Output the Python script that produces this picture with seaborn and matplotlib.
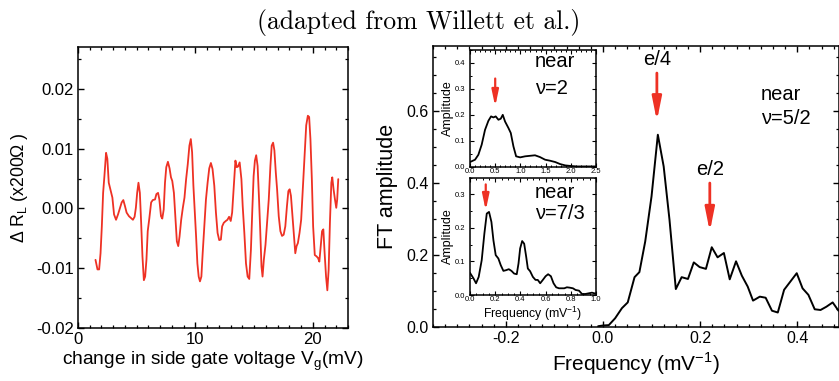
import numpy as np
import pandas as pd
import matplotlib
matplotlib.use("Agg")
import matplotlib.pyplot as plt
from matplotlib.ticker import MultipleLocator
import seaborn as sns

# ---------------- data ----------------
vg = [1.49, 1.66, 1.80, 1.92, 2.03, 2.14, 2.25, 2.39, 2.50, 2.62, 2.76, 2.93, 3.07, 3.24, 3.41,
      3.58, 3.72, 3.86, 4.00, 4.14, 4.34, 4.51, 4.68, 4.82, 4.93, 5.04, 5.15, 5.27, 5.38, 5.49,
      5.61, 5.72, 5.83, 5.94, 6.08, 6.23, 6.37, 6.56, 6.68, 6.82, 6.93, 7.07, 7.18, 7.30, 7.41,
      7.52, 7.66, 7.80, 7.92, 8.03, 8.17, 8.31, 8.42, 8.54, 8.65, 8.79, 8.93, 9.07, 9.21, 9.35,
      9.49, 9.61, 9.72, 9.83, 9.94, 10.06, 10.17, 10.28, 10.39, 10.51, 10.62, 10.76, 10.90, 11.04,
      11.18, 11.32, 11.46, 11.61, 11.75, 11.89, 12.03, 12.17, 12.28, 12.42, 12.59, 12.73, 12.87,
      13.01, 13.13, 13.27, 13.41, 13.52, 13.63, 13.77, 13.92, 14.03, 14.17, 14.31, 14.45, 14.59,
      14.73, 14.85, 14.96, 15.07, 15.18, 15.30, 15.41, 15.52, 15.63, 15.72, 15.83, 15.97, 16.11,
      16.25, 16.39, 16.50, 16.62, 16.73, 16.85, 16.96, 17.10, 17.24, 17.38, 17.52, 17.66, 17.80,
      17.92, 18.03, 18.14, 18.25, 18.37, 18.51, 18.62, 18.73, 18.87, 19.01, 19.15, 19.30, 19.44,
      19.58, 19.69, 19.80, 19.92, 20.03, 20.17, 20.31, 20.45, 20.56, 20.68, 20.79, 20.90, 21.01,
      21.13, 21.24, 21.35, 21.46, 21.58, 21.66, 21.77, 21.89, 22.00, 22.08, 22.17]
delta_rl = [-0.0086, -0.0102, -0.0102, -0.0075, -0.0030, 0.0026, 0.0054, 0.0093, 0.0083, 0.0043,
            0.0032, 0.0018, -0.0010, -0.0019, -0.0010, 0.0001, 0.0010, 0.0014, 0.0004, -0.0007,
            -0.0013, -0.0016, -0.0019, -0.0014, 0.0001, 0.0026, 0.0043, 0.0026, -0.0024, -0.0080,
            -0.0120, -0.0114, -0.0086, -0.0038, -0.0016, 0.0010, 0.0014, 0.0015, 0.0024, 0.0026,
            0.0015, -0.0013, -0.0017, -0.0002, 0.0043, 0.0069, 0.0078, 0.0067, 0.0052, 0.0046,
            0.0026, -0.0019, -0.0055, -0.0063, -0.0047, -0.0019, 0.0001, 0.0018, 0.0049, 0.0074,
            0.0105, 0.0116, 0.0094, 0.0038, -0.0002, -0.0047, -0.0092, -0.0114, -0.0122, -0.0114,
            -0.0075, -0.0030, 0.0015, 0.0043, 0.0067, 0.0076, 0.0066, 0.0038, -0.0007, -0.0041,
            -0.0053, -0.0052, -0.0030, -0.0024, -0.0021, -0.0019, -0.0014, -0.0021, -0.0007, 0.0038,
            0.0080, 0.0069, 0.0070, 0.0077, 0.0049, 0.0004, -0.0041, -0.0092, -0.0114, -0.0118,
            -0.0069, -0.0002, 0.0054, 0.0080, 0.0089, 0.0071, 0.0021, -0.0035, -0.0097, -0.0114,
            -0.0086, -0.0061, -0.0024, 0.0015, 0.0071, 0.0105, 0.0110, 0.0097, 0.0060, 0.0032,
            -0.0013, -0.0038, -0.0046, -0.0044, -0.0030, 0.0004, 0.0029, 0.0032, 0.0021, -0.0007,
            -0.0038, -0.0075, -0.0063, -0.0058, -0.0041, -0.0019, 0.0032, 0.0088, 0.0139, 0.0155,
            0.0153, 0.0116, 0.0049, -0.0030, -0.0078, -0.0080, -0.0083, -0.0089, -0.0063, -0.0038,
            -0.0035, -0.0075, -0.0114, -0.0137, -0.0103, -0.0024, 0.0043, 0.0052, 0.0032, 0.0015,
            0.0001, 0.0015, 0.0049]

freq_main = [-0.010, 0.000, 0.012, 0.025, 0.039, 0.051, 0.065, 0.075, 0.087, 0.100, 0.113, 0.125,
             0.137, 0.150, 0.162, 0.175, 0.187, 0.199, 0.212, 0.224, 0.236, 0.249, 0.261, 0.274,
             0.286, 0.298, 0.309, 0.323, 0.335, 0.348, 0.360, 0.373, 0.386, 0.399, 0.411, 0.423,
             0.436, 0.448, 0.460, 0.473, 0.485]
ft_amp = [0.003, 0.005, 0.006, 0.025, 0.053, 0.069, 0.139, 0.153, 0.238, 0.363, 0.534, 0.446,
          0.298, 0.106, 0.139, 0.134, 0.180, 0.167, 0.162, 0.222, 0.194, 0.206, 0.133, 0.183,
          0.143, 0.113, 0.074, 0.085, 0.082, 0.046, 0.041, 0.104, 0.127, 0.150, 0.108, 0.090,
          0.050, 0.048, 0.057, 0.069, 0.046]

freq_nu2 = [0.0, 0.1, 0.166, 0.232, 0.298, 0.365, 0.418, 0.464, 0.51, 0.564, 0.61, 0.65, 0.696,
            0.763, 0.809, 0.862, 0.915, 0.995, 1.094, 1.19, 1.29, 1.39, 1.49, 1.59, 1.69, 1.79,
            1.89, 1.99, 2.12, 2.32, 2.5]
amp_nu2 = [0.018, 0.027, 0.046, 0.085, 0.142, 0.177, 0.194, 0.190, 0.194, 0.181, 0.185, 0.200,
           0.174, 0.149, 0.130, 0.078, 0.040, 0.036, 0.040, 0.042, 0.044, 0.037, 0.027, 0.023,
           0.018, 0.010, 0.005, 0.003, 0.001, 0.001, 0.001]

freq_nu73 = [0.0, 0.027, 0.048, 0.069, 0.093, 0.114, 0.133, 0.151, 0.17, 0.186, 0.204, 0.225,
             0.244, 0.265, 0.286, 0.308, 0.329, 0.35, 0.371, 0.385, 0.398, 0.414, 0.43, 0.446,
             0.459, 0.477, 0.499, 0.52, 0.538, 0.557, 0.578, 0.6, 0.62, 0.642, 0.663, 0.684,
             0.706, 0.727, 0.748, 0.769, 0.79, 0.817, 0.838, 0.865, 0.889, 0.915, 0.942, 0.968,
             0.987, 1.0]
amp_nu73 = [0.066, 0.050, 0.035, 0.054, 0.104, 0.183, 0.243, 0.248, 0.218, 0.163, 0.119, 0.109,
            0.089, 0.072, 0.074, 0.077, 0.072, 0.064, 0.062, 0.094, 0.139, 0.161, 0.153, 0.114,
            0.079, 0.071, 0.054, 0.045, 0.045, 0.035, 0.045, 0.056, 0.062, 0.056, 0.035, 0.023,
            0.020, 0.020, 0.020, 0.023, 0.022, 0.020, 0.015, 0.013, 0.003, 0.003, 0.005, 0.007,
            0.005, 0.005]

# annotations (x, tail y, head y)
main_arrows = [(0.111, 0.705, 0.572), (0.220, 0.400, 0.265)]
main_arrow_labels = ["e/4", "e/2"]
inset1_arrow = (0.5, 0.34, 0.232)
inset2_arrow = (0.125, 0.33, 0.252)

RED = "#ee3124"

# ---------------- style ----------------
sns.set_style("ticks")
plt.rcParams["font.family"] = ["Liberation Sans", "DejaVu Sans"]
plt.rcParams["axes.unicode_minus"] = False
plt.rcParams["xtick.direction"] = "in"
plt.rcParams["ytick.direction"] = "in"
plt.rcParams["xtick.top"] = True
plt.rcParams["ytick.right"] = True
plt.rcParams["xtick.minor.visible"] = True
plt.rcParams["ytick.minor.visible"] = True
plt.rcParams["axes.edgecolor"] = "black"
plt.rcParams["axes.linewidth"] = 1.1
plt.rcParams["xtick.color"] = "black"
plt.rcParams["ytick.color"] = "black"
plt.rcParams["text.color"] = "black"
plt.rcParams["axes.labelcolor"] = "black"

fig = plt.figure(figsize=(8.39, 3.81), dpi=100)
W, H = 839, 381


def add_ax(x0, y0, x1, y1):
    return fig.add_axes([x0 / W, 1 - y1 / H, (x1 - x0) / W, (y1 - y0) / H])


def style_ticks(ax, major_len=4.5, minor_len=2.5, lw=1.0, size=12):
    ax.tick_params(which="major", length=major_len, width=lw, labelsize=size, pad=3)
    ax.tick_params(which="minor", length=minor_len, width=lw * 0.9)


# ---------------- left panel ----------------
axL = add_ax(78, 47, 348, 328)
dfL = pd.DataFrame({"vg": vg, "dr": delta_rl})
sns.lineplot(data=dfL, x="vg", y="dr", ax=axL, color=RED, lw=1.3, sort=False)
axL.set_xlim(0, 23)
axL.set_ylim(-0.02, 0.027)
axL.xaxis.set_major_locator(MultipleLocator(10))
axL.xaxis.set_minor_locator(MultipleLocator(1))
axL.yaxis.set_major_locator(MultipleLocator(0.01))
axL.yaxis.set_minor_locator(MultipleLocator(0.005))
axL.yaxis.set_major_formatter(matplotlib.ticker.FormatStrFormatter("%.2f"))
style_ticks(axL, size=12)
axL.set_xlabel(r"change in side gate voltage V$_\mathregular{g}$(mV)", fontsize=13.8, labelpad=2)
axL.set_ylabel(r"Δ R$_\mathregular{L}$ (x200Ω )", fontsize=12.7, labelpad=4)

# ---------------- right panel ----------------
axR = add_ax(433, 46, 838.5, 327.3)
dfR = pd.DataFrame({"f": freq_main, "a": ft_amp})
sns.lineplot(data=dfR, x="f", y="a", ax=axR, color="black", lw=1.4, sort=False)
axR.set_xlim(-0.35, 0.485)
axR.set_ylim(0, 0.78)
axR.xaxis.set_major_locator(MultipleLocator(0.2))
axR.xaxis.set_minor_locator(MultipleLocator(0.025))
axR.yaxis.set_major_locator(MultipleLocator(0.2))
axR.yaxis.set_minor_locator(MultipleLocator(0.05))
axR.xaxis.set_major_formatter(matplotlib.ticker.FormatStrFormatter("%.1f"))
axR.yaxis.set_major_formatter(matplotlib.ticker.FormatStrFormatter("%.1f"))
style_ticks(axR, size=11.5)
axR.set_xlabel(r"Frequency (mV$^\mathregular{-1}$)", fontsize=15, labelpad=3)
axR.set_ylabel("FT amplitude", fontsize=15.5, labelpad=6)

arrow_kw = dict(arrowstyle="-|>,head_length=1.0,head_width=0.2", color=RED, lw=2.0,
                shrinkA=0, shrinkB=0, mutation_scale=14)
for (x, yt, yh), lab in zip(main_arrows, main_arrow_labels):
    axR.annotate("", xy=(x, yh), xytext=(x, yt), arrowprops=arrow_kw)
    axR.text(x, yt + 0.012, lab, ha="center", va="bottom", fontsize=14.5)
axR.text(0.325, 0.645, "near", ha="left", va="center", fontsize=14.5)
axR.text(0.325, 0.58, "ν=5/2", ha="left", va="center", fontsize=14.5)

inset_arrow_kw = dict(arrowstyle="-|>,head_length=0.95,head_width=0.2", color=RED, lw=1.6,
                      shrinkA=0, shrinkB=0, mutation_scale=10)

# ---------------- inset 1 ----------------
ax1 = add_ax(470, 50, 596, 166.7)
df1 = pd.DataFrame({"f": freq_nu2, "a": amp_nu2})
sns.lineplot(data=df1, x="f", y="a", ax=ax1, color="black", lw=1.3, sort=False)
ax1.set_xlim(0, 2.5)
ax1.set_ylim(0, 0.45)
ax1.xaxis.set_major_locator(MultipleLocator(0.5))
ax1.xaxis.set_minor_locator(MultipleLocator(0.1))
ax1.yaxis.set_major_locator(MultipleLocator(0.1))
ax1.yaxis.set_minor_locator(MultipleLocator(0.05))
ax1.xaxis.set_major_formatter(matplotlib.ticker.FormatStrFormatter("%.1f"))
ax1.yaxis.set_major_formatter(matplotlib.ticker.FormatStrFormatter("%.1f"))
style_ticks(ax1, major_len=3, minor_len=1.6, lw=0.8, size=5.5)
ax1.tick_params(axis="x", which="major", pad=1)
ax1.tick_params(axis="y", which="major", pad=3.3)
ax1.set_xlabel("")
ax1.set_ylabel("Amplitude", fontsize=9, labelpad=1)
ax1.annotate("", xy=(inset1_arrow[0], inset1_arrow[2]), xytext=(inset1_arrow[0], inset1_arrow[1]),
             arrowprops=inset_arrow_kw)
ax1.text(1.29, 0.405, "near", ha="left", va="center", fontsize=14.5)
ax1.text(1.29, 0.30, "ν=2", ha="left", va="center", fontsize=14.5)

# ---------------- inset 2 ----------------
ax2 = add_ax(470, 177.7, 596, 295)
df2 = pd.DataFrame({"f": freq_nu73, "a": amp_nu73})
sns.lineplot(data=df2, x="f", y="a", ax=ax2, color="black", lw=1.3, sort=False)
ax2.set_xlim(0, 1.0)
ax2.set_ylim(0, 0.35)
ax2.xaxis.set_major_locator(MultipleLocator(0.2))
ax2.xaxis.set_minor_locator(MultipleLocator(0.05))
ax2.yaxis.set_major_locator(MultipleLocator(0.1))
ax2.yaxis.set_minor_locator(MultipleLocator(0.05))
ax2.xaxis.set_major_formatter(matplotlib.ticker.FormatStrFormatter("%.1f"))
ax2.yaxis.set_major_formatter(matplotlib.ticker.FormatStrFormatter("%.1f"))
style_ticks(ax2, major_len=3, minor_len=1.6, lw=0.8, size=5.5)
ax2.tick_params(axis="x", which="major", pad=1)
ax2.tick_params(axis="y", which="major", pad=3.3)
ax2.set_xlabel(r"Frequency (mV$^\mathregular{-1}$)", fontsize=8.8, labelpad=1)
ax2.set_ylabel("Amplitude", fontsize=9, labelpad=1)
ax2.annotate("", xy=(inset2_arrow[0], inset2_arrow[2]), xytext=(inset2_arrow[0], inset2_arrow[1]),
             arrowprops=inset_arrow_kw)
ax2.text(0.516, 0.307, "near", ha="left", va="center", fontsize=14.5)
ax2.text(0.516, 0.243, "ν=7/3", ha="left", va="center", fontsize=14.5)

# ---------------- title ----------------
fig.text(419 / W, 1 - 22 / H, "(adapted from Willett et al.)", ha="center", va="center",
         fontsize=18.5, family=["cmr10", "DejaVu Serif"])

fig.savefig("out.png", dpi=100)
